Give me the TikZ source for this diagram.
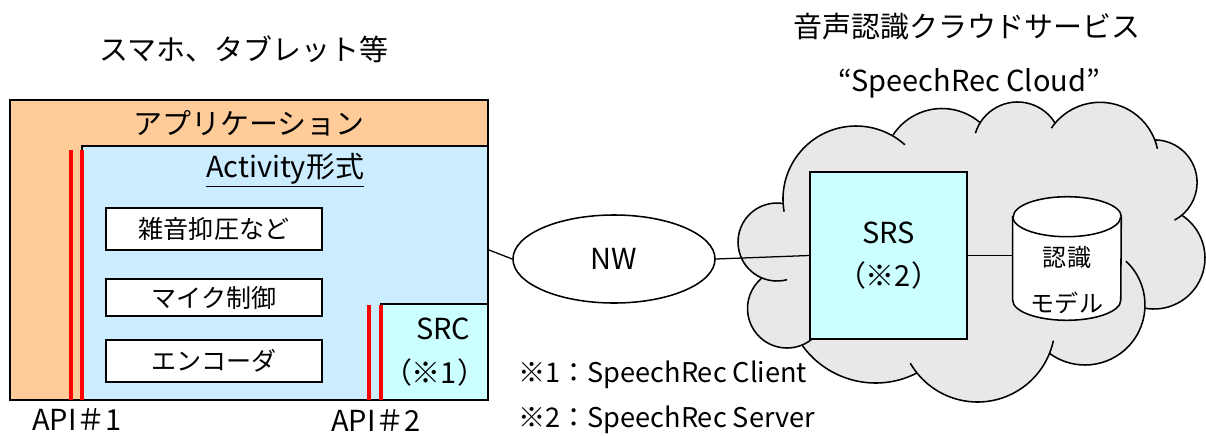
\documentclass[tikz,border=0pt]{standalone}
\usepackage{fontspec}
\setmainfont{Noto Sans CJK JP}
\usepackage{tikz}
\usetikzlibrary{positioning,shapes.geometric}
\usepackage{xcolor}

\definecolor{appfill}{RGB}{255,204,153}
\definecolor{actfill}{RGB}{204,236,255}
\definecolor{srcfill}{RGB}{204,255,255}
\definecolor{cloudfill}{RGB}{232,232,232}
\definecolor{apired}{RGB}{255,0,0}

\newcommand{\bigjp}{\fontsize{20.6}{24.7}\selectfont}
\newcommand{\notejp}{\fontsize{19.3}{23.2}\selectfont}
\newcommand{\smalljp}{\fontsize{17.8}{21.4}\selectfont}
\newcommand{\dbjp}{\fontsize{17.1}{20.5}\selectfont}

\begin{document}
\begin{tikzpicture}[x=0.025cm,y=-0.025cm,
    box/.style={rectangle,draw,line width=1.1pt,inner sep=0pt},
    func/.style={box,fill=white,minimum width=5.4cm,font=\smalljp},
    apiline/.style={draw=apired,line width=3.2pt},
    link/.style={line width=0.9pt},
    cloudline/.style={line width=1.1pt}]

\useasboundingbox (0,0) rectangle (1206,435);

\node[font=\bigjp] (devtitle) at (244,49) {スマホ、タブレット等};
\node[font=\bigjp] (cloudtitle) at (967,27) {音声認識クラウドサービス};
\node[font=\bigjp] (cloudname) at (969,83) {“SpeechRec Cloud”};

\node[box,line width=1.4pt,fill=appfill,minimum width=11.95cm,minimum height=7.5cm] (app) at (249,250) {};
\node[box,fill=actfill,minimum width=10.15cm,minimum height=6.35cm] (act) at (285,273) {};
\node[font=\bigjp] (apptitle) at (249,123) {アプリケーション};
\node[font=\bigjp] (acttitle) at (285,170) {\underline{Activity形式}};

\node[func,minimum height=1.05cm] (noise) at (214,229) {雑音抑圧など};
\node[func,minimum height=0.925cm] (mic) at (214,297.5) {マイク制御};
\node[func,minimum height=1.05cm] (enc) at (214,361) {エンコーダ};

\node[box,fill=srcfill,minimum width=2.675cm,minimum height=2.4cm,font=\bigjp,align=center] (src) at (434.5,352) {\hspace*{0.6em}SRC\\[6pt]（※1）};

\foreach \x/\t in {71/150,82/150,369/305,381/305}
  \draw[apiline] (\x,\t) -- (\x,400);

\node[font=\bigjp] (api1) at (77,420) {API＃1};
\node[font=\bigjp] (api2) at (376,421) {API＃2};

\foreach \cx/\cy/\r in {856/199/73,942/167/58.5,1017.5/146/44,1100/161/58.7,1154.5/182.5/42.6,1154/258/51,1085/305/60,977.5/324.4/77.6,875.6/292.6/90.4,787/308.5/39.5,777/242/39}
  \fill[cloudfill] (\cx,\cy) circle[radius=\r];
\fill[cloudfill] (783,203) -- (893,135) -- (980,123) -- (1055,123) -- (1155,140) -- (1182,215) -- (1145,308) -- (1050,352) -- (917,373) -- (802,345) -- (762,278) -- cycle;
\foreach \cx/\cy/\r/\s/\e in {856/199/73/170/312,942/167/58.5/213.1/310.8,1017.5/146/44/197/328.5,1100/161/58.7/214/348,1154.5/182.5/42.6/270.7/422,1154/258/51/303.1/460.2,1085/305/60/-47/126.1,977.5/324.4/77.6/12/150,875.6/292.6/90.4/62.8/144.5,787/308.5/39.5/50/230.7,777/242/39/75/278.75}
  \draw[cloudline] (\cx,\cy) ++(\s:\r) arc[start angle=\s,end angle=\e,radius=\r];

\node[ellipse,draw,line width=1.1pt,fill=white,minimum width=5.05cm,minimum height=2.2cm,inner sep=0pt,font=\bigjp] (nw) at (614,259) {NW};
\node[box,fill=srcfill,minimum width=3.925cm,minimum height=4.175cm,font=\bigjp,align=center] (srs) at (888.5,255.5) {SRS\\[6pt]（※2）};

\node[inner sep=0pt,minimum width=2.7cm,minimum height=3.075cm] (db) at (1067,258.5) {};
\filldraw[fill=white,line width=1.1pt] ([yshift=-0.5cm]db.north west) -- ([yshift=0.5cm]db.south west) arc[start angle=180,end angle=360,x radius=1.35cm,y radius=0.5cm] -- ([yshift=-0.5cm]db.north east) arc[start angle=0,end angle=180,x radius=1.35cm,y radius=0.5cm] -- cycle;
\draw[line width=1.1pt] ([yshift=-0.5cm]db.north west) arc[start angle=180,end angle=360,x radius=1.35cm,y radius=0.5cm];
\node[font=\dbjp,align=center] (dbtext) at (1067,280) {認識\\[12pt]モデル};

\draw[link] (app.east) -- (nw.west);
\draw[link] (nw.east) -- (srs.west);
\draw[link] (srs.east) -- (srs.east -| db.west);

\node[font=\notejp,anchor=west,inner sep=0pt] (note1) at (518,375) {※1：SpeechRec Client};
\node[font=\notejp,anchor=west,inner sep=0pt] (note2) at (518,420) {※2：SpeechRec Server};

\end{tikzpicture}
\end{document}
